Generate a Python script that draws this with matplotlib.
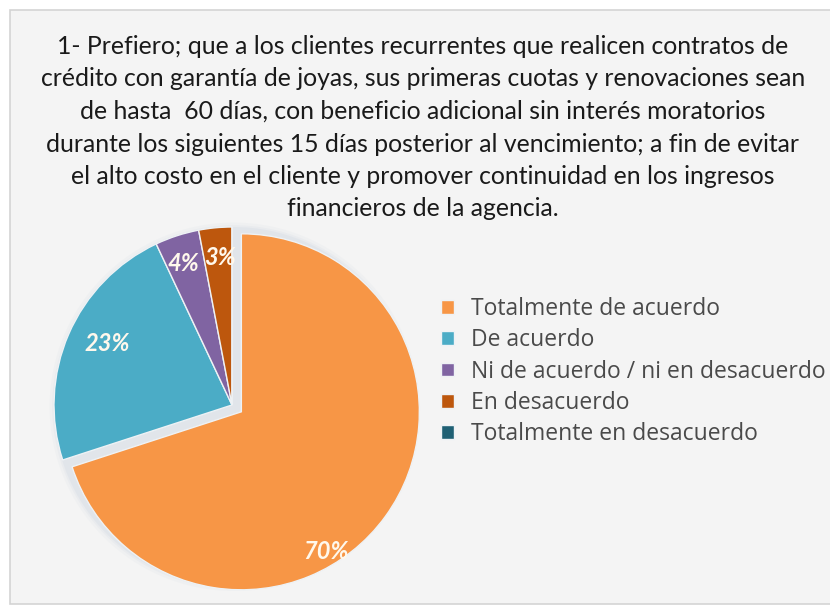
import numpy as np
import matplotlib
matplotlib.use("Agg")
import matplotlib.pyplot as plt
from matplotlib.patches import Rectangle

# ---- data ----
categories = ["Totalmente de acuerdo", "De acuerdo", "Ni de acuerdo / ni en desacuerdo",
              "En desacuerdo", "Totalmente en desacuerdo"]
percentages = [70, 23, 4, 3, 0]
title_text = ("1- Prefiero; que a los clientes recurrentes que realicen contratos de\n"
              "crédito con garantía de joyas, sus primeras cuotas y renovaciones sean\n"
              "de hasta  60 días, con beneficio adicional sin interés moratorios\n"
              "durante los siguientes 15 días posterior al vencimiento; a fin de evitar\n"
              "el alto costo en el cliente y promover continuidad en los ingresos\n"
              "financieros de la agencia.")

# ---- style ----
colors = ["#F79646", "#4BACC6", "#8064A2", "#BD570D", "#1F6074"]
explode = [0.065, 0, 0, 0, 0]
# label placement (radius fraction, angle offset from wedge middle in degrees)
label_r = [0.92, 0.78, 0.84, 0.83, 0.8]
label_doff = [-22.7, -3.0, 1.0, -0.7, 0]

W, H = 830, 606
fig = plt.figure(figsize=(W / 100, H / 100), dpi=100)
fig.patch.set_facecolor("white")
fig.add_artist(Rectangle((10 / W, 2 / H), 1.0, (H - 12) / H, transform=fig.transFigure,
                         facecolor="#F4F4F4", edgecolor="#D4D4D4", linewidth=1.2, zorder=0))

# pie axes: center (232,405) px, radius 178 px
cx, cy, R = 232, 405, 178
lim = 1.25
side = 2 * lim * R
ax = fig.add_axes([(cx - side / 2) / W, ((H - cy) - side / 2) / H, side / W, side / H])
ax.set_xlim(-lim, lim)
ax.set_ylim(-lim, lim)
ax.set_aspect("equal")
ax.axis("off")
ax.patch.set_alpha(0)

# soft shadow behind the pie
for k, a in zip([1.035, 1.02, 1.01], [0.05, 0.07, 0.09]):
    ax.add_patch(plt.Circle((0.01, -0.01), k, color="#9AB0C8", alpha=a, lw=0, zorder=0))

wedges, _ = ax.pie(percentages, colors=colors, explode=explode, startangle=90,
                   counterclock=False, radius=1.0,
                   wedgeprops=dict(edgecolor="#EEF2F5", linewidth=1.0))

for w, p, r, doff in zip(wedges, percentages, label_r, label_doff):
    if p == 0:
        continue
    mid = np.deg2rad((w.theta1 + w.theta2) / 2 + doff)
    x0, y0 = w.center
    ax.text(x0 + r * np.cos(mid), y0 + r * np.sin(mid), f"{p}%",
            ha="center", va="center", color="#FFF8EC", fontsize=17,
            fontstyle="italic", fontweight="bold", family=["Lato", "DejaVu Sans"])

fig.text(423 / W, 1 - 35 / H, title_text, ha="center", va="top", fontsize=17.8,
         family=["Lato", "DejaVu Sans"], color="#1A1A1A", linespacing=1.5)

leg = fig.legend(wedges, categories, loc="upper left",
                 bbox_to_anchor=(441 / W, 1 - 297 / H), frameon=False,
                 handlelength=0.55, handleheight=0.55, handletextpad=0.75,
                 labelspacing=0.32, borderaxespad=0, borderpad=0,
                 prop=dict(family=["Open Sans", "DejaVu Sans"], size=16.5),
                 labelcolor="#4A4A4A")

fig.savefig("out.png", dpi=100)
